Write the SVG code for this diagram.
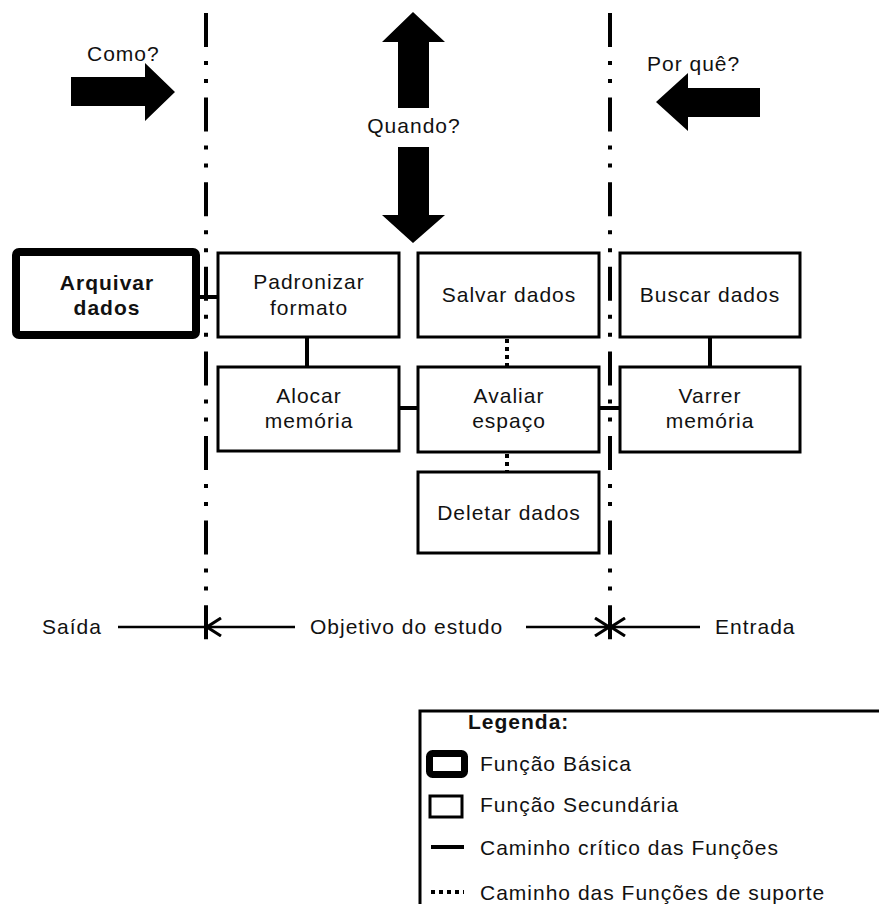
<svg xmlns="http://www.w3.org/2000/svg" width="879" height="904" viewBox="0 0 879 904">
  <style>
    text { font-family: "Liberation Sans", Arial, sans-serif; font-size: 21px; letter-spacing: 1px; fill: #111; }
    .c { text-anchor: middle; }
    .b { font-weight: bold; }
    .box { fill: #fff; stroke: #000; stroke-width: 3; }
    .basic { fill: #fff; stroke: #000; stroke-width: 8; }
    .crit { stroke: #000; stroke-width: 4; fill: none; }
    .sup { stroke: #000; stroke-width: 4; stroke-dasharray: 4 4; fill: none; }
    .bound { stroke: #000; stroke-width: 4; stroke-dasharray: 34 14 4 14 4 14.6; fill: none; }
    .scope { stroke: #000; stroke-width: 2.5; fill: none; }
    .big { fill: #000; }
  </style>
  <defs>
    <marker id="open" viewBox="0 0 16 20" refX="15" refY="10" markerWidth="16" markerHeight="20" markerUnits="userSpaceOnUse" orient="auto">
      <path d="M1,1 L15,10 L1,19" fill="none" stroke="#000" stroke-width="3"/>
    </marker>
  </defs>

  <rect width="879" height="904" fill="#fff"/>

  <!-- scope boundaries -->
  <g id="boundaries">
    <line class="bound" x1="206" y1="13" x2="206" y2="640"/>
    <line class="bound" x1="610" y1="13" x2="610" y2="640"/>
  </g>

  <!-- big direction arrows -->
  <g id="como">
    <text x="87" y="61">Como?</text>
    <polygon class="big" points="71,77 145,77 145,63 175,92 145,121 145,106 71,106"/>
  </g>
  <g id="quando">
    <polygon class="big" points="413,12 445,42 429,42 429,108 398,108 398,42 382,42"/>
    <text class="c" x="414" y="133">Quando?</text>
    <polygon class="big" points="398,147 429,147 429,215 445,215 413,243 382,215 398,215"/>
  </g>
  <g id="porque">
    <text x="647" y="71">Por quê?</text>
    <polygon class="big" points="760,88 688,88 688,73 656,102 688,131 688,117 760,117"/>
  </g>

  <!-- connectors -->
  <g id="connectors">
    <line class="crit" x1="200" y1="297" x2="218" y2="297"/>
    <line class="crit" x1="307" y1="337" x2="307" y2="367"/>
    <line class="crit" x1="399" y1="408" x2="418" y2="408"/>
    <line class="crit" x1="599" y1="408" x2="620" y2="408"/>
    <line class="crit" x1="710" y1="337" x2="710" y2="367"/>
    <line class="sup" x1="507" y1="339" x2="507" y2="367"/>
    <line class="sup" x1="507" y1="454" x2="507" y2="472"/>
  </g>

  <!-- function nodes -->
  <g id="arquivar">
    <rect class="basic" x="16" y="252" width="180" height="83" rx="3"/>
    <text class="c b" x="107" y="290">Arquivar</text>
    <text class="c b" x="107" y="315">dados</text>
  </g>
  <g id="padronizar">
    <rect class="box" x="218" y="253" width="181" height="84"/>
    <text class="c" x="309" y="289">Padronizar</text>
    <text class="c" x="309" y="315">formato</text>
  </g>
  <g id="alocar">
    <rect class="box" x="218" y="367" width="181" height="84"/>
    <text class="c" x="309" y="403">Alocar</text>
    <text class="c" x="309" y="428">memória</text>
  </g>
  <g id="salvar">
    <rect class="box" x="418" y="253" width="181" height="84"/>
    <text class="c" x="509" y="302">Salvar dados</text>
  </g>
  <g id="avaliar">
    <rect class="box" x="418" y="367" width="181" height="85"/>
    <text class="c" x="509" y="403">Avaliar</text>
    <text class="c" x="509" y="428">espaço</text>
  </g>
  <g id="deletar">
    <rect class="box" x="418" y="472" width="181" height="81"/>
    <text class="c" x="509" y="520">Deletar dados</text>
  </g>
  <g id="buscar">
    <rect class="box" x="620" y="253" width="180" height="84"/>
    <text class="c" x="710" y="302">Buscar dados</text>
  </g>
  <g id="varrer">
    <rect class="box" x="620" y="367" width="180" height="85"/>
    <text class="c" x="710" y="403">Varrer</text>
    <text class="c" x="710" y="428">memória</text>
  </g>

  <!-- scope axis -->
  <g id="scope">
    <text x="42" y="634">Saída</text>
    <line class="scope" x1="118" y1="627" x2="206" y2="627"/>
    <line class="scope" x1="295" y1="627" x2="207" y2="627" marker-end="url(#open)"/>
    <text x="310" y="634">Objetivo do estudo</text>
    <line class="scope" x1="526" y1="627" x2="609" y2="627" marker-end="url(#open)"/>
    <line class="scope" x1="700" y1="627" x2="611" y2="627" marker-end="url(#open)"/>
    <text x="715" y="634">Entrada</text>
  </g>

  <!-- legend -->
  <g id="legend">
    <rect x="420" y="711" width="480" height="220" fill="none" stroke="#000" stroke-width="3"/>
    <text class="b" x="468" y="729">Legenda:</text>
    <rect x="429.5" y="753.5" width="35" height="21" rx="3" fill="#fff" stroke="#000" stroke-width="7"/>
    <text x="480" y="771">Função Básica</text>
    <rect x="430" y="796" width="32" height="21" fill="#fff" stroke="#000" stroke-width="3"/>
    <text x="480" y="812">Função Secundária</text>
    <line class="crit" x1="431" y1="847" x2="464" y2="847" stroke-width="3"/>
    <text x="480" y="855">Caminho crítico das Funções</text>
    <line class="sup" x1="431" y1="892" x2="464" y2="892"/>
    <text x="480" y="900">Caminho das Funções de suporte</text>
  </g>
</svg>
